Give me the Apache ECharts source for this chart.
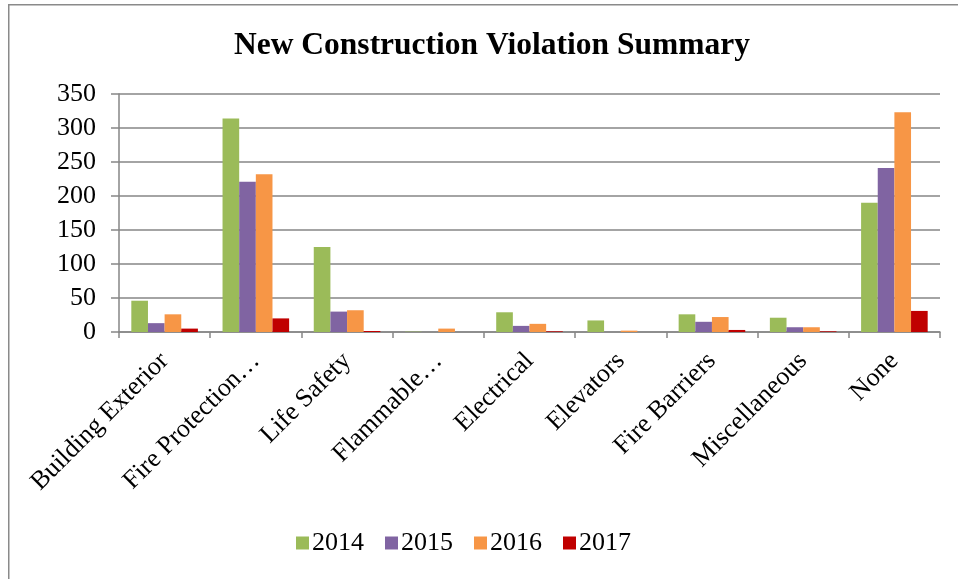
<!DOCTYPE html>
<html>
<head>
<meta charset="utf-8">
<script src="https://cdn.jsdelivr.net/npm/echarts@6/dist/echarts.min.js"></script>
<style>
html,body{margin:0;padding:0;background:#fff;}
#c{width:958px;height:579px;}
</style>
</head>
<body>
<div id="c"></div>
<script>
const categories = ['Building Exterior','Fire Protection…','Life Safety','Flammable…','Electrical','Elevators','Fire Barriers','Miscellaneous','None'];
const years = ['2014','2015','2016','2017'];
const v2014 = [46, 314, 125, 0.5, 29, 17, 26, 21, 190];
const v2015 = [13, 221, 30, 0, 9, 0, 15, 7, 241];
const v2016 = [26, 232, 32, 5, 12, 2, 22, 7, 323];
const v2017 = [5, 20, 1.5, 0, 1, 0, 3, 1, 31];
const yTicks = [0, 50, 100, 150, 200, 250, 300, 350];
const colors = ['#9BBB59', '#8064A2', '#F79646', '#C00000'];

const font = '"Liberation Serif", "Times New Roman", serif';
const chart = echarts.init(document.getElementById('c'), null, {renderer: 'canvas'});
const seriesData = [v2014, v2015, v2016, v2017];

chart.setOption({
  animation: false,
  backgroundColor: '#fff',
  color: colors,
  title: {
    text: 'New Construction Violation Summary',
    left: 229,
    top: 25,
    textStyle: {fontFamily: font, fontSize: 31.5, fontWeight: 'bold', color: '#000'}
  },
  graphic: [{
    type: 'rect',
    shape: {x: 8.75, y: 4.75, width: 1200, height: 1200},
    style: {fill: 'none', stroke: '#8a8a8a', lineWidth: 1.5},
    silent: true
  }],
  legend: {
    data: years,
    left: 291,
    top: 525,
    itemWidth: 13,
    itemHeight: 13,
    itemGap: 21,
    icon: 'rect',
    textStyle: {fontFamily: font, fontSize: 26, color: '#000', padding: [0,0,0,-2]}
  },
  grid: {left: 119, right: 18, top: 94, bottom: 247, containLabel: false},
  xAxis: {
    type: 'category',
    data: categories,
    axisLine: {lineStyle: {color: '#868686', width: 1.5}},
    axisTick: {show: true, length: 6, lineStyle: {color: '#868686', width: 1.5}},
    axisLabel: {rotate: 45, margin: 25, fontFamily: font, fontSize: 26, color: '#000', interval: 0}
  },
  yAxis: {
    type: 'value',
    min: 0, max: 350, interval: 50,
    axisLine: {show: true, lineStyle: {color: '#868686', width: 1.5}},
    axisTick: {show: true, length: 8, inside: false, lineStyle: {color: '#868686', width: 1.5}},
    splitLine: {lineStyle: {color: '#868686', width: 1.5}},
    axisLabel: {margin: 23, fontFamily: font, fontSize: 26, color: '#000',
      formatter: function (v) { return yTicks.indexOf(v) >= 0 ? String(v) : ''; }}
  },
  series: years.map((y, i) => ({
    name: y,
    type: 'bar',
    data: seriesData[i],
    barGap: '0%',
    barCategoryGap: '27%',
    itemStyle: {color: colors[i]}
  }))
});
</script>
</body>
</html>
